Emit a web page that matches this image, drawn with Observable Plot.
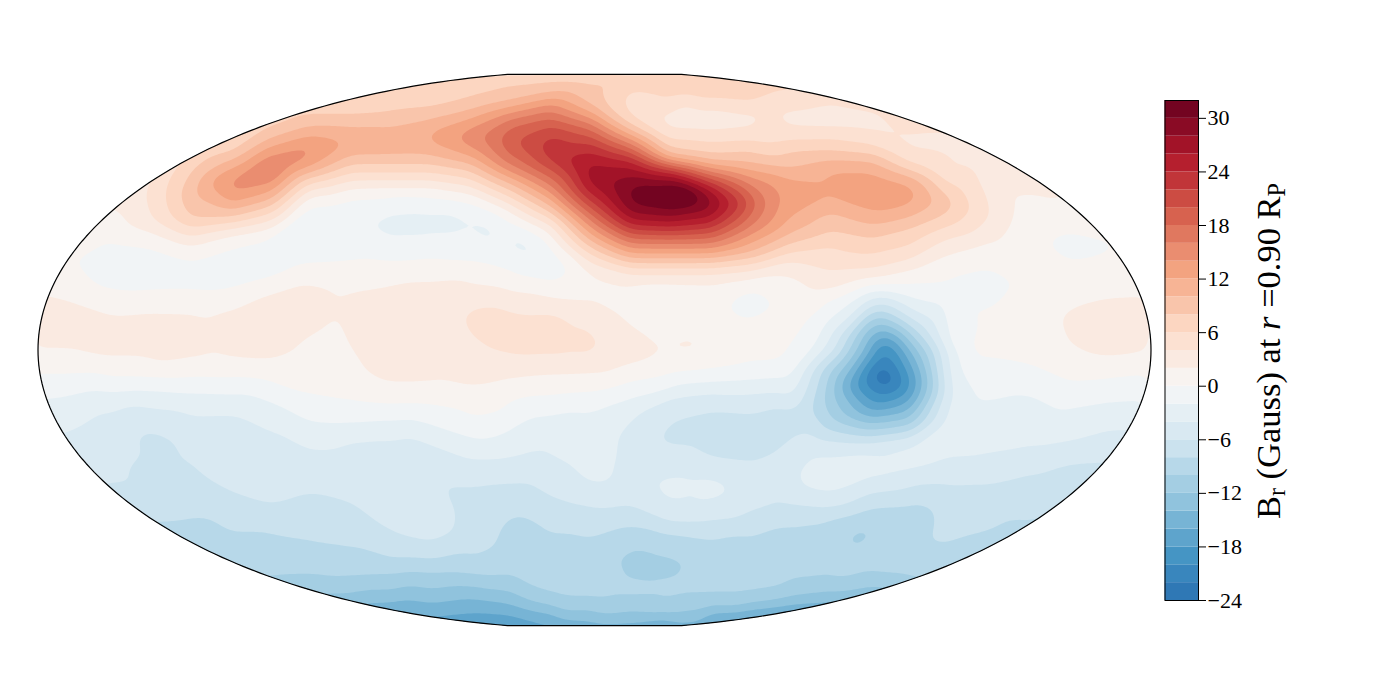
<!DOCTYPE html>
<html>
<head>
<meta charset="utf-8">
<script src="https://cdn.jsdelivr.net/npm/d3@7"></script>
<script src="https://cdn.jsdelivr.net/npm/@observablehq/plot@0.6"></script>
<style>
  html, body { margin: 0; background: #fff; }
  #stage { position: relative; width: 1400px; height: 700px; overflow: hidden; }
  #bar { position: absolute; left: 1164px; top: 75px; }
  #label { position: absolute; left: 1268px; top: 351px; transform: translate(-50%, -50%) rotate(-90deg);
           white-space: nowrap; font: 34.5px "Liberation Serif", serif; color: #000; line-height: 1; }
  #label sub { font-size: 0.7em; vertical-align: -0.2em; line-height: 0; }
  #label i { font-style: italic; }
</style>
</head>
<body>
<div id="stage"><div id="label">B<sub>r</sub> (Gauss) at <i>r</i> =0.90 R<sub>P</sub></div></div>
<script>
// Br in Gauss. Each list is one map column, from north to south.
const col00 = [1,1,1,1,1,1,1,1,1,2.3,3,2.3,0,-1.7,-3,-4,-5,-6,-7,-8,-9,-10,-11,-12];
const col01 = [1,1,1,1,1,1,1.5,1,0.4,1.7,2.9,2.3,0.3,-2.1,-3.4,-4.6,-5.3,-6,-7,-8,-9,-10,-11,-12];
const col02 = [2,2,2,2,2,2.5,1.5,-0.3,-1.1,0.4,2.4,2.9,0.8,-2.4,-4.6,-5.2,-5.6,-6.5,-7.5,-8.5,-9.5,-10.5,-11.5,-12.5];
const col03 = [3,3,3,3,3.5,4.4,3.8,0,-1.1,0.3,2.6,3,1,-2.7,-5.2,-6.5,-7,-7.2,-7.9,-9,-10,-11,-12,-13];
const col04 = [5,5,5,5.5,7.7,9.8,8,2,-0.9,0.3,2.6,3,0.8,-2.3,-4.4,-5.3,-6.4,-7,-8.1,-9,-10,-11,-12,-13];
const col05 = [6,6,6,6.5,12.4,14,7,0,-1,0.4,2.6,3,0.7,-2.2,-4.5,-5,-5.4,-6.1,-7.5,-8.6,-9.8,-11,-12,-13];
const col06 = [6,6,7,12,16.3,11.5,4,-0.7,-0.8,2.3,3.2,3,1.1,-1.5,-3.4,-4.7,-5,-5.6,-7.3,-8.6,-9.7,-11,-12,-14];
const col07 = [6,6,9,14.5,11,2,-1.2,-1.6,1,2.7,2.6,1.6,0.9,0,-1.9,-3.8,-5,-6.1,-7.2,-8.2,-9.6,-12.2,-14,-16];
const col08 = [6,6,8.8,12,6.5,0.4,-1.6,-1.4,1,2.2,2.4,2.1,1.2,0.4,-1.8,-4.4,-5,-5.7,-6.8,-7.9,-9.4,-12.3,-15,-17];
const col09 = [6.5,7,9.2,11.5,6.5,0,-2.7,-1.6,1,2.6,3,3,2.6,1,-2,-4.4,-5.4,-5.5,-5.7,-6.6,-9.5,-12.7,-17,-19];
const col10 = [6.5,7,10.3,12,6.5,0,-2.7,-1.2,1.2,2.9,3.4,3.2,2.8,0.8,-1.6,-4.1,-5.8,-5.5,-5.1,-6.1,-9.7,-12.8,-16.5,-19];
const col11 = [6.5,7.8,12.4,14.5,8,1.6,-2.4,-1,1,2.9,4.4,3.8,3,1.3,-0.3,-2.8,-4.9,-6.5,-7,-7.5,-9.5,-13.5,-17,-20];
const col12 = [7,8.6,16.6,19.6,14.8,6.6,0.2,-2.4,0,2.5,4.6,4.4,2.7,0.4,-1.4,-3.1,-5,-6.9,-8.4,-8.9,-9.5,-12.5,-17,-20];
const col13 = [7.5,10.8,18.5,23.5,20,13,5,0.2,-1,1.8,4.8,4.8,2.4,0,-2.5,-3.6,-4.7,-5.9,-7.5,-8.4,-9,-10,-15.5,-18];
const col14 = [7.5,8.5,15,22.7,27.5,24,16,8.6,2,1.6,3.6,4.6,2.3,-0.4,-2.6,-3,-3.4,-5,-7.2,-8.3,-9,-9.6,-14,-18];
const col15 = [8.3,5.7,6.7,16.8,27,31,26,15.2,5,1.5,1.8,3,1.3,-1.7,-4,-4.5,-4.4,-5.3,-7.3,-10,-10.4,-9.6,-13.5,-18];
const col16 = [8.4,6.5,3.2,8,22.5,34,26.7,15.2,5,0.1,0.8,2.3,0.4,-4,-6.2,-6.2,-4.2,-3.5,-5.7,-9.7,-10.3,-9.6,-13.7,-18];
const col17 = [8,6.7,2.8,6.5,15,28.5,25.5,15.5,5,1,0.9,1.7,0,-4.4,-6.8,-7.2,-4.3,-3.5,-6,-8.5,-9.4,-9.8,-16,-20];
const col18 = [7,6.5,2.8,7,12,18.3,17,11.6,4,-0.5,0.2,1,-0.7,-4.2,-6.6,-7.2,-5.4,-4.7,-6.9,-8.5,-9.2,-10,-17,-21];
const col19 = [6,6.2,2.8,7,10.3,13.9,11.6,7.5,2.5,0.8,0.4,0.2,-1.2,-3.7,-7.2,-5.5,-4.4,-5,-7.8,-8.6,-9.3,-11.6,-18,-22];
const col20 = [6,5,2.8,7,11.6,12,8.6,5.4,4,0.1,-2,-5,-10,-11.5,-9.8,-5,-3,-4,-8.3,-9,-9.5,-12.5,-18,-22];
const col21 = [6,6,3,6,12,13.7,10.8,7.4,4,-3.2,-10.5,-15.5,-20.5,-19,-13,-5,-3.2,-6.3,-8.9,-9.5,-9.6,-13.5,-18,-22];
const col22 = [5.5,5.5,5.4,3.6,8,13.4,9.6,6,1.8,-1.5,-6.3,-12.6,-17,-17.3,-11.5,-3.5,-3.8,-7.4,-8.8,-9,-9.7,-12,-16,-20];
const col23 = [5,5,5,3,3.8,7.8,6.8,2.8,0.3,-1,-1.3,-1.8,-3.5,-4,-3,-3.4,-4.8,-6.8,-7.2,-8.2,-9,-11,-14,-16];
const col24 = [4,4,4,3.5,3.5,3.6,3.7,1.6,-0.1,-0.5,0.4,0.4,-0.5,-1.8,-2.8,-3.6,-5,-6.6,-7.7,-8.5,-9,-10,-11,-12];
const col25 = [3,3,3,3,3,1.9,0.9,0.4,0.3,0.5,0.8,0.7,-0.2,-2.1,-2.9,-3.9,-5.9,-6.8,-8,-9,-10,-11,-12,-13];
const col26 = [2,2,2,2,2,1.9,0.6,-0.6,0.4,1.5,2.4,2,0.5,-1,-2.9,-4.2,-6.5,-7.5,-8.5,-9.5,-10,-11,-12,-13];
const col27 = [1,1,1,1,1,1,0.8,-0.2,0.6,1.9,3,3,0.6,-1.5,-3.4,-5,-6.5,-7.5,-8.5,-9.5,-10,-11,-12,-13];
const col28 = [1,1,1,1,1,1,1,0.8,1,2,3,2.5,0.2,-1.8,-3.5,-5,-6.5,-7.5,-8.5,-9.5,-10,-11,-12,-13];
const columns = [col00,col01,col02,col03,col04,col05,col06,col07,col08,col09,col10,col11,col12,col13,col14,
                 col15,col16,col17,col18,col19,col20,col21,col22,col23,col24,col25,col26,col27,col28];

// Extra readings where a level was read between table cells: [column, row] in table units.
const at2 = [[0.43,9],[1.25,9.32],[1.93,9.68],[2.93,9.68],[4.33,9.8],[5,9.52],[5.83,8.88],[6.68,8.52],[7.5,8.68],[7.83,9],[9.5,8.4],[10.75,8.28],[11.75,8.68],[12.58,8.92],[13.58,9.2],[14.43,9.6],[15.08,10.28],[15.75,11.08],[15.75,11.4],[15.08,11.8],[14.43,12.12],[12.58,12.2],[11.43,12.52],[10.33,12.4],[9.25,12.52],[0.33,11.2],[1.68,11.4],[3.18,11.72],[4.68,11.36],[6.43,11.32],[6.58,11.2],[7,10.6],[7.68,9.72],[8,11.2],[8.33,12.08],[8.83,12.48],[16.88,11],[24.55,6],[24.33,4.72],[25.83,5.28],[24.18,6.88],[23.08,7.32],[22.08,7.88],[21,8.28],[20.08,8.8],[19.58,8.88],[19.08,8.2],[18.5,8.08],[2.25,5.48],[2.5,6.28],[4,7]];
const at0 = [[1.05,7.52],[1.68,8.68],[2.5,8.88],[4.58,8.88],[5.83,8.4],[7.08,7.68],[8.33,7.52],[9.5,7.6],[10.93,7.68],[12.18,8.2],[13,8.48],[13.55,8.12],[13.43,7.6],[12.83,6.68],[11.75,5.72],[10.5,5.12],[9.25,5],[7.5,5.32],[4,7.6],[3,7],[2,6.8],[15.43,9.2],[16.18,9.2],[15.8,9.04],[15.8,9.6],[17.3,9.4],[18.7,9.2],[18,8.72],[17.75,9.88],[23.83,7.92],[24.63,8.4],[24.25,9.08],[23.25,9],[23.2,9.6],[23.43,11.2],[23.58,11.6],[24.33,11.6],[25.18,11.88],[26,12.52],[26.83,12.4],[27.93,12.12],[22.93,8.48],[20.18,9.08],[19.58,9.92],[19.18,10.8],[0.25,12.12],[2.5,12.28],[5,12.32],[6.68,12.92],[8.33,13.28],[9.5,13.32],[11.08,13.88],[11.75,13.68],[12.58,13],[14.25,12.8],[15.93,12.2],[17.58,11.88],[18.75,11.68],[21.33,8.6]];
const atM2 = [[9.25,5.48],[10.5,5.68],[10.93,6],[12.18,6.52],[12.8,7.28],[12.58,7.6],[11.75,6.92],[10.93,6.28],[10.08,6.52],[9.25,6.8],[8.33,6.12],[6.05,7.08],[7.13,6.4],[6.63,6.32],[6.5,7.08],[0.43,13.08],[1.68,12.76],[4.18,12.88],[5.43,12.92],[6.25,13.4],[7.25,14.08],[8.33,14.08],[9.5,13.92],[10.25,14.32],[11.25,14.8],[11.75,14.6],[12.58,13.8],[13.43,13.56],[14.25,13.48],[15.08,13.08],[15.93,12.8],[17.58,12.4],[18.75,12.28],[23.58,13.4],[24.75,12.88],[25.83,13.68],[27.68,13.2],[19.58,11.2],[19.93,10],[23.18,11.2],[23.43,12.52],[21.33,8.84]];
const atM4 = [[0.93,14.4],[1.75,13.6],[2.5,13.32],[3.75,13.6],[5.18,13.72],[6.25,14.48],[7.5,15.12],[8.68,14.68],[9.5,14.64],[10.08,15],[10.93,15.52],[11.75,15.52],[16.33,13],[18.75,12.88],[15.55,16.68],[15.93,16.2],[16.58,16.08],[17.25,16.24],[17.58,16.68],[17.45,17.12],[16.75,17.48],[16.18,17.32],[19.08,16.2],[19.58,15.32],[19.33,16.8],[20.18,16.92],[21.83,16.32],[23.5,15.48],[25.18,15.08],[27.33,14.4],[15.25,13.6],[14.68,14.52],[14.68,15.2],[15.05,16.28],[14.43,16.64],[13.93,16.48],[13.43,15.72],[12.83,15.12],[19.83,11.2],[22.95,11.2],[20.45,10],[22.58,10],[21,15.2],[21.33,8.96],[20.05,10.6],[22.7,10.6]];
const atM6 = [[15.63,14.52],[15.93,14.08],[17.18,13.6],[18.75,13.4],[15.75,15],[16.75,15.28],[18,15.64],[18.75,15.28],[2.63,14.52],[2.93,14.28],[3.58,14.68],[3.93,15.48],[4.18,16.12],[5,16.92],[6,17.4],[7.08,16.88],[7.75,17.2],[8.68,18.28],[9.5,18.8],[3.08,16.12],[2.93,16.6],[1.93,16.52],[2.88,15.48],[9.3,15.8],[9.58,15.72],[10.08,16.12],[10.68,16.52],[12.43,16.48],[13.43,17.28],[14.25,17.56],[15.25,17.6],[16.33,18.08],[17.58,18],[18.75,17.32],[9.43,16.28],[9.75,16.48],[10.33,16.92],[10.68,17.72],[10.68,18.4],[10.08,18.92],[9.25,18.72],[19.33,17.4],[21,16.92],[22.68,16.48],[23.93,16.52],[25.18,16.12],[26,15.72],[20.2,11.2],[22.75,11.2],[21,14.92],[21.33,9.32],[20.25,10.6],[22.45,10.6]];
const atM8 = [[3.25,18.08],[4.43,17.8],[5.83,18.4],[7.08,18.88],[8.33,19.12],[9.5,19.48],[11.08,19.52],[11.68,19.08],[11.83,18.28],[12.08,17.8],[12.58,17.88],[13.43,18.4],[14.93,18.2],[16.33,18.6],[17.58,18.48],[18.75,18.12],[19.75,18],[21,17.48],[22.08,17.2],[22.58,17.4],[22.7,17.8],[22.25,19],[22.68,19.08],[23.5,18.52],[24.5,17.88],[25,18],[20.3,11.2],[22.58,11.2],[19.55,13.6],[22.7,12.4],[21,14.64],[21.33,9.6],[20.45,10.6],[22.25,10.6]];
const atM10 = [[6.18,20.2],[7.5,20.32],[8.75,20.2],[10.33,20.08],[11.58,20.28],[12.58,20.8],[13.43,21.2],[14.25,21.36],[15.93,21.32],[17.58,21.08],[18.75,20.8],[20.18,20.48],[22,20.28],[14.58,19.48],[15.08,18.92],[15.75,19.08],[16.58,19.6],[16.08,20.2],[15.5,20.48],[14.93,20.12],[20.28,18.8],[21.18,18.28],[20.7,18.28],[20.75,18.8],[20.5,11.2],[22.38,11.2],[19.83,13.2],[22.58,12.4],[21,14.4],[21.33,9.84],[20.63,10.6],[22.05,10.6]];
const atM12 = [[7.33,20.88],[9.5,20.6],[10.5,20.6],[11.75,20.8],[12.58,21.28],[13.43,21.68],[14.25,21.72],[15.93,21.72],[17.58,21.48],[18.75,21.12],[20.83,20.72],[20.68,11.2],[22.2,11.2],[20.08,13],[22.45,12.4],[21,14.12],[21.33,10.08],[20.8,10.6],[21.88,10.6]];
const atM14 = [[8.33,21.28],[10.93,21.12],[12.18,21.48],[13.43,21.92],[15.08,22.12],[16.75,22.08],[18.75,21.48],[19.93,21.28],[20.88,11.2],[22,11.2],[20.25,12.8],[22.33,12.4],[21.33,10.32],[21,10.6],[21.68,10.6]];
const atM16 = [[11.33,21.68],[12.58,22],[13,22.16],[15.93,22.16],[17.58,21.88],[18.75,21.68],[20.43,12.6],[22.18,12.4],[21,13.68],[21.33,10.6],[21,11.2],[21.83,11.2]];
const atM18 = [[20.58,12.6],[22.05,12.4],[21.33,10.8],[21.13,11.2],[21.68,11.2]];
const atM20 = [[20.8,12.6],[21.85,12.4],[21.33,11],[21.25,11.2],[21.45,11.2]];
const atM22 = [[21.33,11.8],[21.33,12.72],[21,12.2],[21.6,12.3]];
const at4 = [[10.93,9.6],[11.18,9.28],[11.75,9.32],[12.58,9.6],[13.58,10.08],[14.25,10.92],[14.08,11.28],[13.43,11.48],[12.18,11.48],[11.58,11.28],[11.25,10.92],[10.95,10.12],[15.2,1.4],[16.25,1.2],[18.5,1.52],[15.93,2.48],[18,2.28],[21,2.4],[21,1.6],[22,2.4],[22,3.2],[23,3.2],[24,3.8],[23,4.08],[23.5,4.12],[20,2.28],[20,1.28],[19,1.56],[19,2.2],[18,1.68],[17,1.4],[17,2.48],[2.9,5.08],[24,5.72]];
const at6 = [[14.7,1.12],[15.08,0.8],[16.75,1.12],[18.5,1.12],[14.93,1.8],[15.93,2.72],[18.43,3],[21,3],[20,2.72],[19,1.12],[19,2.8],[18,1.4],[18,2.8],[17,1.2],[17,2.8],[3.35,5.08],[23.55,5.52]];
const at8 = [[14.7,0.2],[15.75,0.4],[16.75,0.6],[13.75,0.52],[14.25,1.2],[14.68,1.88],[13,0.52],[3.73,5],[23.15,5.4]];
const at10 = [[4.08,4.8],[22.7,5.28]];
const at12 = [[9.7,2.68],[8.05,2.92],[4.43,4.6],[19.93,4.52],[22.18,5.12],[20.75,3.96],[21.33,5.68]];
const at14 = [[10.5,2.68],[7.23,3.2],[4.85,4.32],[18.68,5.32]];
const at16 = [[11.13,2.6],[5.58,4.2],[6.3,3.72],[18.43,5.32]];
const at18 = [[11.65,2.68],[18.2,5.32]];
const at20 = [[12.15,2.72],[18,5.32]];
const at22 = [[12.65,3],[17.8,5.32]];
const at24 = [[13.23,3.4],[17.63,5.32]];
const at26 = [[13.83,3.88],[17.38,5.32]];
const at28 = [[14.33,4.48],[17.13,5.32]];
const at30 = [[14.95,4.92],[16.8,5.32],[16,4.56],[16,5.6]];
const readings = [[2,at2],[0,at0],[-2,atM2],[-4,atM4],[-6,atM6],[-8,atM8],[-10,atM10],[-12,atM12],[-14,atM14],[-16,atM16],[-18,atM18],[-20,atM20],[-22,atM22],
                  [4,at4],[6,at6],[8,at8],[10,at10],[12,at12],[14,at14],[16,at16],[18,at18],[20,at20],[22,at22],[24,at24],[26,at26],[28,at28],[30,at30]];

// Readings down single table columns: [row, value].
const prof04 = [[4.12,8],[6.28,6],[6.68,4]];
const prof05 = [[3.28,8],[3.6,10],[3.92,12],[4.32,14],[5.32,12],[5.6,10],[5.88,8],[6.08,6],[6.32,4],[6.6,2]];
const prof06 = [[2.28,8],[2.72,10],[3.32,14],[3.8,16],[4.28,16],[4.56,14],[4.88,12],[5.16,10],[5.44,8],[5.72,6],[6.32,2],[6.72,0]];
const prof07 = [[1.8,8],[2.2,10],[2.6,12],[3.08,14],[3.52,14],[3.88,12],[4.08,10],[4.28,8],[4.48,6],[4.68,4],[5,2],[5.32,0]];
const prof08 = [[1.8,8],[2.2,10],[3.4,10],[3.76,8],[4.08,6],[4.4,4],[4.72,2],[5.08,0]];
const prof09 = [[1.72,8],[2.2,10],[3.4,10],[3.76,8],[4.08,6],[4.4,4],[4.68,2]];
const prof10 = [[1.56,8],[1.92,10],[2.32,12],[3,12],[3.4,10],[3.76,8],[4.08,6],[4.4,4],[4.68,2],[5.04,0]];
const prof11 = [[1.2,8],[1.56,10],[1.92,12],[2.28,14],[2.68,15.8],[3.12,14],[3.44,12],[3.72,10],[4,8],[4.32,6],[4.64,4],[4.92,2],[5.24,0]];
const prof12 = [[1.2,10],[1.48,12],[1.68,14],[1.92,16],[2.2,18],[3.48,18],[3.8,16],[4.08,14],[4.28,12],[4.52,10],[4.76,8],[5.08,6],[5.32,4],[5.68,2],[6.08,0]];
const prof13 = [[0.88,10],[1.12,12],[1.32,14],[1.6,16],[1.88,18],[2.2,20],[2.52,22],[3.68,22],[4,20],[4.28,18],[4.6,16],[4.88,14],[5.12,12],[5.4,10],[5.68,8],[5.88,6],[6.12,4],[6.52,2],[7.08,0]];
const prof14 = [[1.4,10],[1.68,12],[1.88,14],[2.12,16],[2.32,18],[2.6,20],[2.88,22],[3.2,24],[3.68,26],[4.68,26],[5,24],[5.28,22],[5.52,20],[5.72,18],[6,16],[6.28,14],[6.52,12],[6.8,10],[7.08,8],[7.32,6],[7.68,4],[8,2]];
const prof15 = [[2.2,8],[2.4,10],[2.6,12],[2.72,14],[2.92,16],[3.12,18],[3.28,20],[3.4,22],[3.6,24],[3.8,26],[4.2,28],[4.68,30],[5.32,30],[5.72,28],[6,26],[6.2,24],[6.36,22],[6.56,20],[6.72,18],[6.92,16],[7.12,14],[7.32,12],[7.52,10],[7.68,8],[7.88,6],[8.12,4],[8.52,2]];
const prof16 = [[3.28,8],[3.4,10],[3.52,12],[3.64,14],[3.72,16],[3.8,18],[3.88,20],[3.96,22],[4.08,24],[4.16,26],[4.28,28],[5.88,28],[6.08,26],[6.28,24],[6.44,22],[6.6,20],[6.76,18],[6.92,16],[7.12,14],[7.32,12],[7.52,10],[7.68,8],[7.88,6],[8.12,4],[8.52,2]];
const prof17 = [[3.4,8],[3.6,10],[3.8,12],[3.92,14],[4.08,16],[4.2,18],[4.32,20],[4.48,22],[4.6,24],[4.72,26],[5,28],[5.6,28],[5.92,26],[6.12,24],[6.32,22],[6.52,20],[6.72,18],[6.92,16],[7.12,14],[7.32,12],[7.52,10],[7.68,8],[7.88,6],[8.12,4],[8.52,2]];
const prof18 = [[3.2,8],[3.72,10],[4,12],[4.28,14],[4.6,16],[4.92,18],[5.72,18],[6.28,16],[6.52,14],[6.92,12],[7.28,10],[7.52,8],[7.72,6],[8,4]];
const prof19 = [[3.2,8],[3.92,10],[4.32,12],[5.88,12],[6.52,10],[6.92,8],[7.28,6],[7.6,4],[8.12,2]];
const prof20 = [[3.2,8],[3.56,10],[4,12],[5.08,12],[5.72,10],[6.52,8],[7.28,6],[8,4],[8.88,2]];
const prof21 = [[3.32,8],[3.6,10],[3.96,12],[5.6,12],[6.12,10],[6.68,8],[7.32,6],[8,4]];
const prof22 = [[3.8,6],[4,8],[4.2,10],[4.52,12],[5.32,12],[5.88,10],[6.28,8],[7,6],[7.6,4]];
const profiles = [[4,prof04],[5,prof05],[6,prof06],[7,prof07],[8,prof08],[9,prof09],[10,prof10],[11,prof11],[12,prof12],[13,prof13],
                  [14,prof14],[15,prof15],[16,prof16],[17,prof17],[18,prof18],[19,prof19],[20,prof20],[21,prof21],[22,prof22]];

// Interior extremes read between table cells: column, row, value.
const spots = [[6.58,6.72,-2.4],[6.38,6.8,-2.4],[6.75,6.52,-2.4],[7.5,10.8,1.4],[15.8,9.36,-0.7],[18,9.4,-0.8],[20.75,18.52,-10.8],[16.5,11,2.5],
               [21.33,12.24,-25],[21.1,12.1,-23.5],[21.55,12.35,-23.5],[15.6,5,33],[16.4,5,34.5],[5.93,4,17.5],[10.5,6.08,-2.8],[11.5,6.48,-2.7],[12.25,6.92,-2.7],[12.63,7.28,-2.4],
               [23.88,8.48,-0.8],[23.25,8.6,-0.6],[20,4.52,12.8],[18,5.32,20.2]];

// Contour levels and colour-bar labels.
const levels = [-24,-22,-20,-18,-16,-14,-12,-10,-8,-6,-4,-2,0,2,4,6,8,10,12,14,16,18,20,22,24,26,28,30];
const barTicks = [-24,-18,-12,-6,0,6,12,18,24,30];
const rdbuStops = ["#053061","#2166ac","#4393c3","#92c5de","#d1e5f0","#f7f7f7","#fddbc7","#f4a582","#d6604d","#b2182b","#67001f"];

const ramp = d3.piecewise(d3.interpolateRgb, rdbuStops);
const colorScale = {
  type: "threshold",
  domain: levels.slice(1),
  range: levels.map(l => ramp((l + 1 + 32) / 64))
};

// Map coordinates of the table: each column and row sits at a fixed step across the map.
const lonStep = 12.93, latStep = 8.065, lonStart = -182.3, latStart = 90.16;
const place = (c, r, v) => ({lon: lonStart + c * lonStep, lat: latStart - r * latStep, v});
const table = [
  ...columns.flatMap((values, i) => values.map((v, j) => place(i, j, v))),
  ...readings.flatMap(([v, list]) => list.map(([c, r]) => place(c, r, v))),
  ...profiles.flatMap(([c, list]) => list.map(([r, v]) => place(c, r, v))),
  ...spots.map(([c, r, v]) => place(c, r, v))
];

const latCut = 88.9;
const outline = d3.range(0, 361, 1).map(a => {
  const t = a * Math.PI / 180;
  return {lon: 180 * Math.cos(t), lat: Math.max(-latCut, Math.min(latCut, 90 * Math.sin(t)))};
});

const map = Plot.plot({
  width: 1400, height: 700, margin: 0,
  x: {domain: [-180, 180], range: [37.5, 1150.5], axis: null},
  y: {domain: [-90, 90], range: [628.5, 70.5], axis: null},
  color: colorScale,
  marks: [
    Plot.contour(table, {x: "lon", y: "lat", value: "v", fill: "value", thresholds: levels,
                         interpolate: "barycentric", blur: 3, pixelSize: 2}),
    Plot.line(outline, {x: "lon", y: "lat", stroke: "black", strokeWidth: 1.2})
  ]
});
const sx = map.scale("x").apply, sy = map.scale("y").apply;
const clipId = "map-clip";
const mapSel = d3.select(map);
mapSel.append("clipPath").attr("id", clipId).append("path")
  .attr("d", d3.line().x(d => sx(d.lon)).y(d => sy(d.lat))(outline) + "Z");
mapSel.select('g[aria-label="contour"]').attr("clip-path", `url(#${clipId})`);
document.getElementById("stage").prepend(map);

const bar = Plot.plot({
  width: 100, height: 550, marginLeft: 0.5, marginRight: 66, marginTop: 25, marginBottom: 25,
  style: {fontFamily: "'Liberation Serif', serif", fontSize: "22px", color: "black"},
  x: {axis: null},
  y: {domain: [-24, 32], axis: null},
  color: colorScale,
  marks: [
    Plot.rectY(levels, {y1: d => d, y2: d => d + 2, fill: d => d}),
    Plot.frame({stroke: "black", strokeWidth: 1}),
    Plot.axisY({anchor: "right", ticks: barTicks, tickSize: 7, tickPadding: 2, fontSize: 22,
                stroke: "black", fill: "black", tickFormat: d => d < 0 ? "\u2212" + (-d) : String(d)})
  ]
});
bar.id = "bar";
document.getElementById("stage").append(bar);
</script>
</body>
</html>
